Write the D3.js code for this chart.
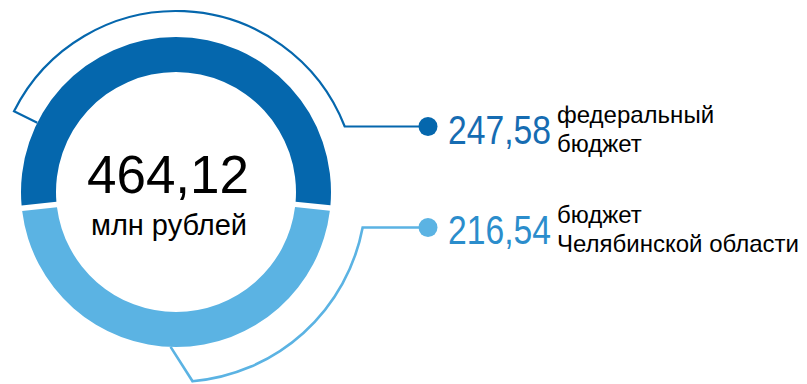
<!DOCTYPE html>
<html lang="ru">
<head>
<meta charset="utf-8">
<script src="https://cdn.jsdelivr.net/npm/d3@7"></script>
<style>
  html, body { margin: 0; padding: 0; background: #fff; }
  svg { display: block; }
  text { font-family: "Liberation Sans", Arial, sans-serif; }
</style>
</head>
<body>
<svg id="chart" width="807" height="384"></svg>
<script>
// Budget sources, million rubles
const categories = ["федеральный бюджет", "бюджет Челябинской области"];
const labelLines = [["федеральный", "бюджет"], ["бюджет", "Челябинской области"]];
const values = [247.58, 216.54];
const unitLabel = "млн рублей";

const colors = ["#0567ad", "#5bb3e3"];
const numberColors = ["#166cb2", "#2b8dcc"];

const ru = d3.formatLocale({ decimal: ",", thousands: "\u00a0", grouping: [3], currency: ["", ""] });
const fmt = ru.format(".2f");

const W = 807, H = 384;
const cx = 176, cy = 192;
const rOuter = 155, rInner = 120;
const deg = Math.PI / 180;

const svg = d3.select("#chart");
const g = svg.append("g").attr("transform", `translate(${cx},${cy})`);

const total = d3.sum(values);
// first segment is centred on the top of the ring
const start = -Math.PI * values[0] / total;
const pie = d3.pie().sort(null).startAngle(start).endAngle(start + 2 * Math.PI).padAngle(0.028);
const arcs = pie(values);

const arc = d3.arc().innerRadius(rInner).outerRadius(rOuter);
g.selectAll("path.seg")
  .data(arcs)
  .join("path")
  .attr("class", "seg")
  .attr("d", arc)
  .attr("fill", (d, i) => colors[i]);

// callout outlines: an arc around each segment, tied to the marker by a horizontal line
const dotX = 428;
const dotY = [126.5, 227.5];
const callouts = [
  { r: 181, from: -63.5 * deg, tie: -63.5 * deg, width: 2.2 },
  { r: 190, from: 175 * deg, tie: 182 * deg, width: 2.6 }
];

function polar(r, a) { return [r * Math.sin(a), -r * Math.cos(a)]; }

callouts.forEach((c, i) => {
  const yRel = dotY[i] - cy;
  const aJoin = Math.acos(-yRel / c.r);           // angle where the arc meets the leader
  const path = d3.path();
  const pTie = polar(rOuter, c.tie);
  const pFrom = polar(c.r, c.from);
  path.moveTo(pTie[0], pTie[1]);
  path.lineTo(pFrom[0], pFrom[1]);
  // d3.path arc uses angles measured from the x axis
  const toCanvas = a => a - Math.PI / 2;
  path.arc(0, 0, c.r, toCanvas(c.from), toCanvas(aJoin), c.from > aJoin);
  path.lineTo(dotX - cx, yRel);
  g.append("path")
    .attr("d", path.toString())
    .attr("fill", "none")
    .attr("stroke", colors[i])
    .attr("stroke-width", c.width)
    .attr("stroke-linejoin", "miter");
  g.append("circle")
    .attr("cx", dotX - cx).attr("cy", yRel).attr("r", 9.5)
    .attr("fill", colors[i]);
});

// centre total
svg.append("text")
  .attr("x", 168).attr("y", 193)
  .attr("text-anchor", "middle")
  .attr("font-size", 53)
  .attr("fill", "#000")
  .text(fmt(total));
svg.append("text")
  .attr("x", 169).attr("y", 235)
  .attr("text-anchor", "middle")
  .attr("font-size", 29)
  .attr("fill", "#000")
  .text(unitLabel);

// value + label legend; the figures are set in a condensed face
const numX = 448;
const numWidth = 103;
const numBase = [144, 244];
values.forEach((v, i) => {
  const num = svg.append("text")
    .attr("font-size", 41)
    .attr("fill", numberColors[i])
    .text(fmt(v));
  const natural = num.node().getComputedTextLength();
  num.attr("transform", `translate(${numX},${numBase[i]}) scale(${numWidth / natural},1)`);
  const t = svg.append("text")
    .attr("x", 557).attr("y", numBase[i] - 21)
    .attr("font-size", 24)
    .attr("fill", "#000");
  labelLines[i].forEach((line, j) => {
    t.append("tspan")
      .attr("x", 557)
      .attr("dy", j === 0 ? 0 : 29)
      .text(line);
  });
});
</script>
</body>
</html>
